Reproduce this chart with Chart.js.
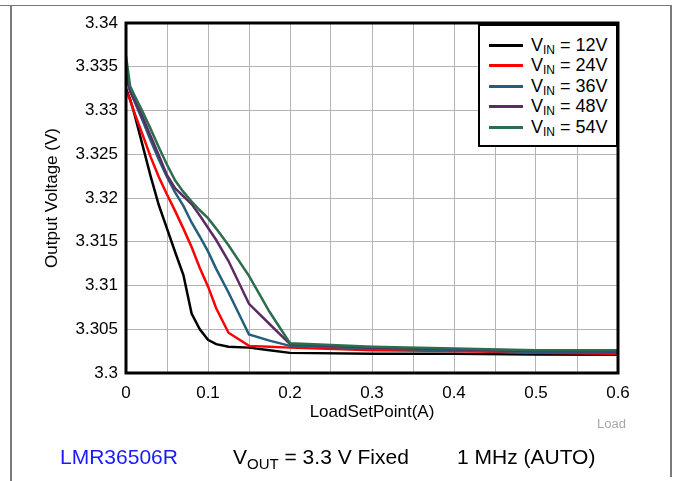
<!DOCTYPE html>
<html>
<head>
<meta charset="utf-8">
<script src="https://cdn.jsdelivr.net/npm/chart.js@4/dist/chart.umd.min.js"></script>
<style>
  html, body { margin: 0; padding: 0; background: #fff; }
  body { width: 676px; height: 481px; position: relative; overflow: hidden; font-family: "Liberation Sans", Arial, sans-serif; }
  #c { position: absolute; left: 0; top: 0; }
  .fline { position: absolute; background: #7a7a7a; }
  #legend { position: absolute; left: 478px; top: 24px; width: 136px; height: 119px; border: 2px solid #000; background: #fff; }
  .lrow { position: absolute; left: 0; height: 20px; display: flex; align-items: center; font-size: 18px; color: #000; white-space: nowrap; }
  .lsw { width: 34px; height: 3px; margin-left: 9px; margin-right: 8px; }
  .lrow sub { font-size: 12px; vertical-align: -3px; line-height: 0; }
  #load { position: absolute; left: 597px; top: 416px; font-size: 13px; color: #a8a8a8; }
  .cap { position: absolute; top: 445px; font-size: 21px; color: #000; white-space: nowrap; }
  .cap sub { font-size: 15px; vertical-align: -5px; line-height: 0; }
</style>
</head>
<body>
<canvas id="c" width="676" height="481"></canvas>
<div class="fline" style="left:0;top:5px;width:672px;height:1px;"></div>
<div class="fline" style="left:10px;top:5px;width:2px;height:476px;"></div>
<div class="fline" style="left:670px;top:5px;width:2px;height:472px;"></div>
<div id="legend"></div>
<div id="load">Load</div>
<div class="cap" style="left:60px;color:#1a1aff;">LMR36506R</div>
<div class="cap" style="left:233px;">V<sub>OUT</sub> = 3.3 V Fixed</div>
<div class="cap" style="left:457px;">1 MHz (AUTO)</div>
<script>
// ---- data ----
const loadA = [0, 0.005, 0.01, 0.02, 0.03, 0.04, 0.05, 0.06, 0.07, 0.08, 0.09, 0.1, 0.11, 0.125, 0.15, 0.175, 0.2, 0.3, 0.4, 0.5, 0.6];
const vin12 = [3.3325, 3.3313, 3.3297, 3.3261, 3.3225, 3.3192, 3.3165, 3.3138, 3.3112, 3.3068, 3.3050, 3.3038, 3.3033, 3.3030, 3.3029, 3.3026, 3.3023, 3.3022, 3.3022, 3.3021, 3.3021];
const vin24 = [3.3323, 3.3312, 3.3298, 3.3273, 3.3247, 3.3224, 3.3204, 3.3185, 3.3165, 3.3144, 3.3120, 3.3099, 3.3074, 3.3046, 3.3031, 3.3030, 3.3029, 3.3026, 3.3025, 3.3023, 3.3022];
const vin36 = [3.3345, 3.3322, 3.3311, 3.3289, 3.3266, 3.3244, 3.3224, 3.3206, 3.3191, 3.3172, 3.3156, 3.3139, 3.3119, 3.3092, 3.3044, 3.3037, 3.3031, 3.3028, 3.3026, 3.3024, 3.3024];
const vin48 = [3.3340, 3.3322, 3.3313, 3.3293, 3.3271, 3.3249, 3.3226, 3.3211, 3.3202, 3.3193, 3.3180, 3.3166, 3.3152, 3.3128, 3.3079, 3.3056, 3.3033, 3.3029, 3.3027, 3.3025, 3.3025];
const vin54 = [3.3362, 3.3328, 3.3318, 3.3299, 3.3279, 3.3258, 3.3238, 3.3220, 3.3207, 3.3196, 3.3186, 3.3177, 3.3165, 3.3146, 3.3111, 3.3070, 3.3034, 3.3030, 3.3028, 3.3026, 3.3026];
const seriesLabels = ['12V', '24V', '36V', '48V', '54V'];
const seriesColors = ['#000000', '#ff0000', '#235f7c', '#5c2b66', '#2b6d4c'];
const yTickLabels = ['3.3', '3.305', '3.31', '3.315', '3.32', '3.325', '3.33', '3.335', '3.34'];
const xTickLabels = ['0', '', '0.1', '', '0.2', '', '0.3', '', '0.4', '', '0.5', '', '0.6'];

const allSeries = [vin12, vin24, vin36, vin48, vin54];
const datasets = allSeries.map((vals, i) => ({
  label: seriesLabels[i],
  data: vals.map((v, j) => ({ x: loadA[j], y: v })),
  borderColor: seriesColors[i],
  backgroundColor: seriesColors[i],
  borderWidth: 2.5,
  pointRadius: 0,
  tension: 0,
  fill: false,
  order: allSeries.length - 1 - i
}));

const FONT = "'Liberation Sans', Arial, sans-serif";

const framePlugin = {
  id: 'frame',
  afterDraw(chart) {
    const a = chart.chartArea, ctx = chart.ctx;
    ctx.save();
    ctx.strokeStyle = '#000';
    ctx.lineWidth = 3;
    ctx.strokeRect(a.left, a.top, a.right - a.left, a.bottom - a.top);
    ctx.restore();
  }
};

const chart = new Chart(document.getElementById('c'), {
  type: 'line',
  data: { datasets },
  plugins: [framePlugin],
  options: {
    responsive: false,
    animation: false,
    devicePixelRatio: 1,
    layout: { padding: { left: 38, right: 58, top: 23, bottom: 54 } },
    plugins: { legend: { display: false }, tooltip: { enabled: false } },
    scales: {
      x: {
        type: 'linear', min: 0, max: 0.6,
        afterFit(s) { s.height = 54; },
        ticks: {
          stepSize: 0.05, autoSkip: false, maxRotation: 0, padding: 10,
          color: '#000', font: { family: FONT, size: 17 },
          callback: (v, i) => xTickLabels[i]
        },
        grid: { color: '#b4b4b4', lineWidth: 1, drawTicks: false },
        border: { display: false },
        title: { display: true, text: 'LoadSetPoint(A)', color: '#000', font: { family: FONT, size: 17 }, padding: { top: 0 } }
      },
      y: {
        type: 'linear', min: 3.3, max: 3.34,
        afterFit(s) { s.width = 88; },
        ticks: {
          stepSize: 0.005, autoSkip: false, padding: 8,
          color: '#000', font: { family: FONT, size: 17 },
          callback: (v, i) => yTickLabels[i]
        },
        grid: { color: '#b4b4b4', lineWidth: 1, drawTicks: false },
        border: { display: false },
        title: { display: true, text: 'Output Voltage (V)', color: '#000', font: { family: FONT, size: 17 }, padding: { bottom: 4 } }
      }
    }
  }
});

// HTML legend built from datasets
const leg = document.getElementById('legend');
chart.data.datasets.forEach((ds, i) => {
  const row = document.createElement('div');
  row.className = 'lrow';
  row.style.top = (9 + i * 20.5) + 'px';
  const sw = document.createElement('span');
  sw.className = 'lsw';
  sw.style.background = ds.borderColor;
  row.appendChild(sw);
  const t = document.createElement('span');
  t.innerHTML = 'V<sub>IN</sub> = ' + ds.label;
  row.appendChild(t);
  leg.appendChild(row);
});
</script>
</body>
</html>
